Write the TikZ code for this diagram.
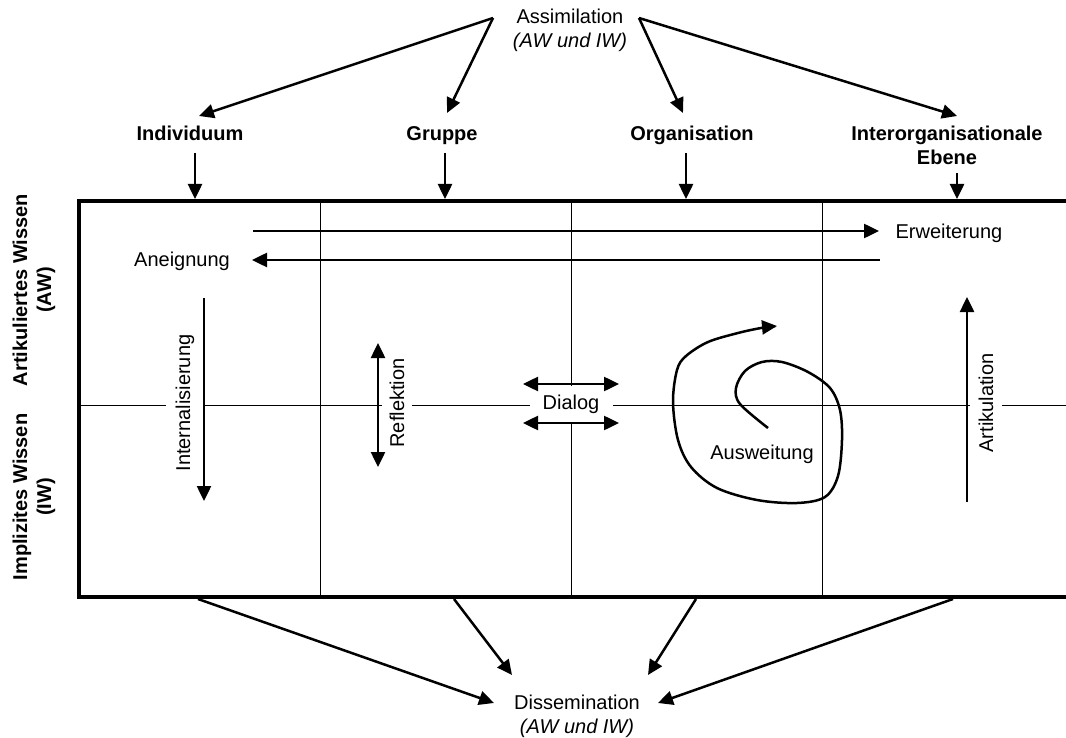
\documentclass[tikz,border=0pt]{standalone}
\usepackage{fontspec}
\setmainfont{Liberation Sans}
\usetikzlibrary{arrows.meta}
\begin{document}
\begin{tikzpicture}[x=1pt,y=-1pt,
  every node/.style={font=\fontsize{20}{24}\selectfont, inner sep=0pt},
  lvl/.style={font=\fontsize{20}{24}\selectfont\bfseries, align=center},
  txt/.style={align=center},
  mask/.style={fill=white, rotate=90, inner xsep=0pt, inner ysep=10pt},
  arr/.style={line width=2.5pt, -{Triangle[length=15pt,width=14pt]}},
  darr/.style={line width=2.5pt, {Triangle[length=15pt,width=14pt]}-{Triangle[length=15pt,width=14pt]}},
  grid/.style={line width=1pt},
  frame/.style={line width=4pt, line join=miter}]
\useasboundingbox (0,0) rectangle (1066,738);

% ---- grid of the matrix ----
\draw[grid] (79,405) -- (1066,405);
\foreach \gx in {320,571,822} \draw[grid] (\gx,201) -- (\gx,597);
\draw[frame] (1066,201) -- (79,201) -- (79,597) -- (1066,597);

% ---- axis labels ----
\node[lvl, rotate=90] (aw) at (34,290) {Artikuliertes Wissen\\(AW)};
\node[lvl, rotate=90] (iw) at (34,497) {Implizites Wissen\\(IW)};

% ---- levels ----
\node[lvl, anchor=base] (ind) at (190,141) {Individuum};
\node[lvl, anchor=base] (grp) at (442,141) {Gruppe};
\node[lvl, anchor=base] (org) at (692,141) {Organisation};
\node[lvl] (inter) at (947,145) {Interorganisationale\\Ebene};

% ---- assimilation ----
\node[txt] (assim) at (570,30) {Assimilation\\\textit{(AW und IW)}};
\coordinate (assimL) at (493,18);
\coordinate (assimR) at (639,18);
\coordinate (toInd) at (199,116);
\coordinate (toGrp) at (447,113);
\coordinate (toOrg) at (683,113);
\coordinate (toInter) at (957,116);
\draw[arr] (assimL) -- (toInd);
\draw[arr] (assimL) -- (toGrp);
\draw[arr] (assimR) -- (toOrg);
\draw[arr] (assimR) -- (toInter);

% ---- level inputs onto the frame ----
\coordinate (indA) at (195,153); \coordinate (indB) at (195,199);
\coordinate (grpA) at (445,153); \coordinate (grpB) at (445,199);
\coordinate (orgA) at (686,153); \coordinate (orgB) at (686,199);
\coordinate (intA) at (957,173); \coordinate (intB) at (957,199);
\draw[arr] (indA) -- (indB);
\draw[arr] (grpA) -- (grpB);
\draw[arr] (orgA) -- (orgB);
\draw[arr] (intA) -- (intB);

% ---- Erweiterung / Aneignung ----
\node (erw) at (949,233) {Erweiterung};
\node (aneig) at (182,261) {Aneignung};
\coordinate (erwA) at (253,231); \coordinate (erwB) at (879,231);
\coordinate (aneA) at (880,260); \coordinate (aneB) at (252,260);
\draw[arr] (erwA) -- (erwB);
\draw[arr] (aneA) -- (aneB);

% ---- Internalisierung ----
\node[mask] (intern) at (185,403) {Internalisierung};
\coordinate (inA) at (204,298); \coordinate (inB) at (204,501);
\draw[arr] (inA) -- (inB);

% ---- Reflektion ----
\node[mask, inner ysep=8pt] (refl) at (397,403) {Reflektion};
\coordinate (reA) at (378,343); \coordinate (reB) at (378,467);
\draw[darr] (reA) -- (reB);

% ---- Dialog ----
\node[fill=white, minimum width=83pt, minimum height=37pt] (dialog) at (571,404) {Dialog};
\coordinate (diA) at (523,384); \coordinate (diB) at (619,384);
\coordinate (diC) at (523,423); \coordinate (diD) at (619,423);
\draw[darr] (diA) -- (diB);
\draw[darr] (diC) -- (diD);

% ---- Ausweitung (spiral) ----
\node (ausw) at (762,454) {Ausweitung};
\draw[line width=2.5pt, -{Triangle[length=15pt,width=14pt]}]
  plot[smooth, tension=0.55] coordinates {
    (768,428) (740,404) (736,388) (745,371) (762,362) (782,362) (808,372)
    (830,388) (840,410) (842,440) (838,476) (825,497) (797,503) (757,500)
    (717,488) (691,467) (678,440) (673,402) (677,370) (686,356) (708,342)
    (738,333) (761,328) (777,326)};

% ---- Artikulation ----
\node[mask, inner ysep=9pt] (artik) at (986,403) {Artikulation};
\coordinate (arA) at (967,502); \coordinate (arB) at (967,297);
\draw[arr] (arA) -- (arB);

% ---- dissemination ----
\node[txt] (diss) at (577,716) {Dissemination\\\textit{(AW und IW)}};
\coordinate (fromInd) at (198,599);
\coordinate (fromGrp) at (454,599);
\coordinate (fromOrg) at (696,599);
\coordinate (fromInter) at (953,599);
\coordinate (dsL) at (494,703);
\coordinate (dsML) at (512,675);
\coordinate (dsMR) at (648,675);
\coordinate (dsR) at (658,703);
\draw[arr] (fromInd) -- (dsL);
\draw[arr] (fromGrp) -- (dsML);
\draw[arr] (fromOrg) -- (dsMR);
\draw[arr] (fromInter) -- (dsR);
\end{tikzpicture}
\end{document}
